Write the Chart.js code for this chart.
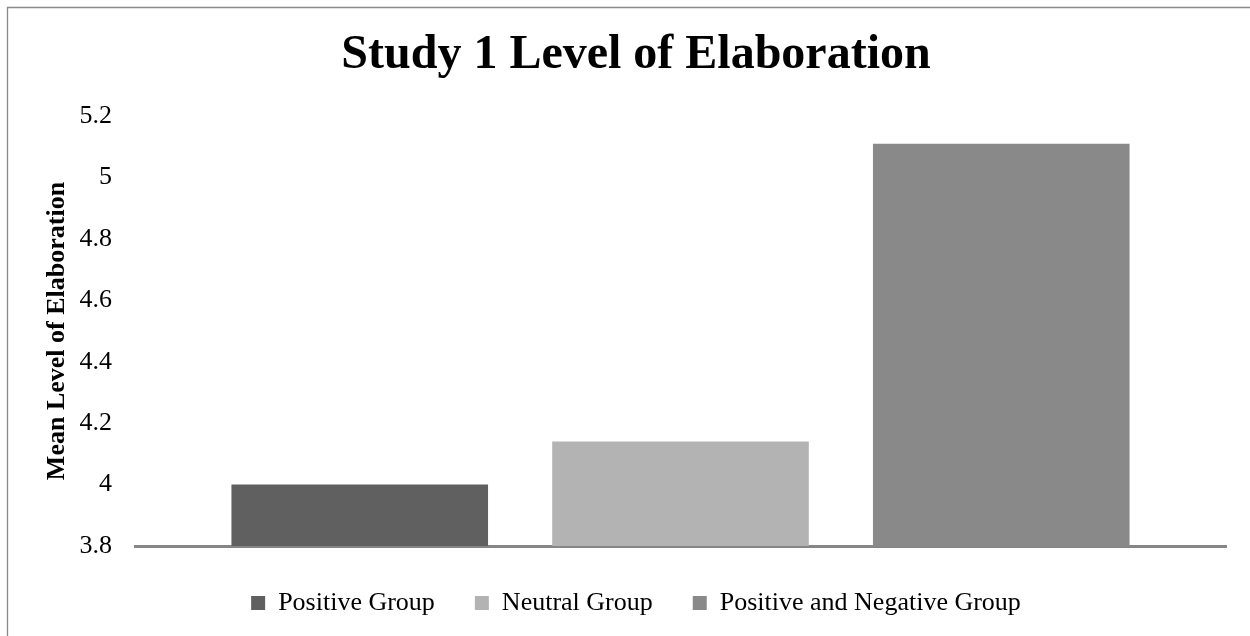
<!DOCTYPE html>
<html>
<head>
<meta charset="utf-8">
<script src="https://cdn.jsdelivr.net/npm/chart.js@4/dist/chart.umd.min.js"></script>
<style>
  html, body { margin: 0; padding: 0; background: #ffffff; }
  #wrap { width: 1250px; height: 636px; }
</style>
</head>
<body>
<div id="wrap"><canvas id="c" width="1250" height="636"></canvas></div>
<script>
const categories = [''];
const seriesNames = ['Positive Group', 'Neutral Group', 'Positive and Negative Group'];
const seriesValues = [4.0, 4.14, 5.11];
const yMin = 3.8;
const yMax = 5.2;
const yStep = 0.2;
const chartTitle = 'Study 1 Level of Elaboration';
const yTitle = 'Mean Level of Elaboration';

const barColors = ['#606060', '#b3b3b3', '#898989'];
const serif = "'Liberation Serif', 'Times New Roman', serif";

const frame = {
  id: 'frame',
  afterDraw(chart) {
    const ctx = chart.ctx;
    ctx.save();
    ctx.strokeStyle = '#8a8a8a';
    ctx.lineWidth = 1.3;
    ctx.beginPath();
    ctx.moveTo(7.5, 636);
    ctx.lineTo(7.5, 7.5);
    ctx.lineTo(1250, 7.5);
    ctx.stroke();
    ctx.restore();
  }
};

const datasets = seriesNames.map((name, i) => ({
  label: name,
  data: [seriesValues[i]],
  backgroundColor: barColors[i],
  borderWidth: 0,
  barPercentage: 0.8,
  categoryPercentage: 0.882
}));

new Chart(document.getElementById('c'), {
  type: 'bar',
  data: { labels: categories, datasets },
  plugins: [frame],
  options: {
    responsive: false,
    animation: false,
    layout: { padding: { left: 46, right: 24, top: 0, bottom: 10 } },
    plugins: {
      tooltip: { enabled: false },
      title: {
        display: true,
        text: chartTitle,
        color: '#000000',
        font: { family: serif, size: 48, weight: 'bold', lineHeight: 1.2 },
        padding: { top: 27, bottom: 31.4 }
      },
      legend: {
        position: 'bottom',
        labels: {
          boxWidth: 14,
          boxHeight: 14,
          padding: 40,
          color: '#000000',
          font: { family: serif, size: 26 }
        }
      }
    },
    scales: {
      x: {
        grid: { display: false, drawTicks: false },
        ticks: { display: false },
        border: { display: true, color: '#868686', width: 3 },
        afterFit(scale) { scale.height = 4; }
      },
      y: {
        min: yMin,
        max: yMax,
        grid: { display: false, drawTicks: false },
        border: { display: false },
        ticks: {
          stepSize: yStep,
          padding: 23,
          color: '#000000',
          font: { family: serif, size: 26 },
          callback: (v) => parseFloat(Number(v).toFixed(1)).toString()
        },
        title: {
          display: true,
          text: yTitle,
          color: '#000000',
          font: { family: serif, size: 26, weight: 'bold', lineHeight: 0.85 },
          padding: { top: 0, bottom: 0 }
        },
        afterFit(scale) { scale.width = 89; }
      }
    }
  }
});
</script>
</body>
</html>
